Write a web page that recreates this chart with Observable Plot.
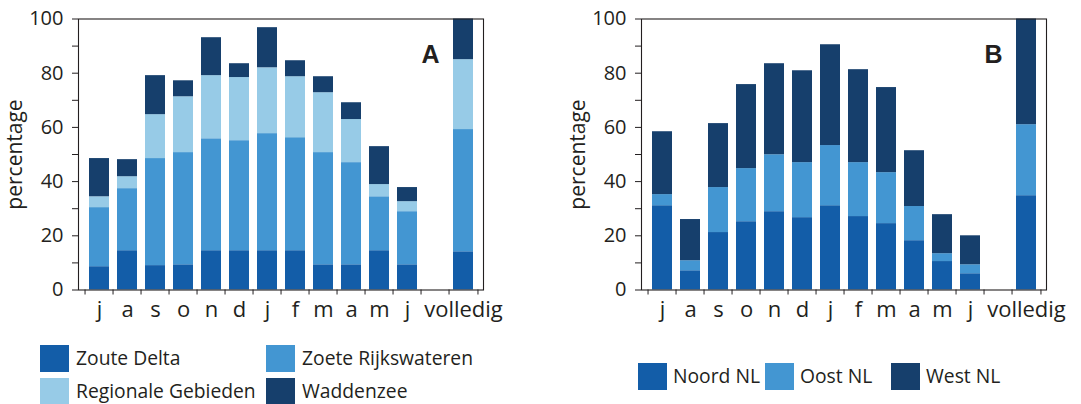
<!DOCTYPE html>
<html>
<head>
<meta charset="utf-8">
<script src="https://cdn.jsdelivr.net/npm/d3@7"></script>
<script src="https://cdn.jsdelivr.net/npm/@observablehq/plot@0.6"></script>
<style>
  html, body { margin: 0; padding: 0; background: #fff; }
  #root { position: relative; width: 1081px; height: 404px; overflow: hidden; font-family: "Open Sans", sans-serif; color: #231f20; }
  .panel { position: absolute; top: 0; }
  .sw { position: absolute; width: 29px; height: 27px; }
  .lt { position: absolute; font-size: 19.3px; line-height: 22px; white-space: nowrap; color: #231f20; }
</style>
</head>
<body>
<div id="root"></div>
<script>
// ---- data ----
const categories = ["jul","aug","sep","okt","nov","dec","jan","feb","mrt","apr","mei","jun","-","volledig"];
const tickLabels = ["j","a","s","o","n","d","j","f","m","a","m","j","","volledig"];
const yTicks = [0, 20, 40, 60, 80, 100];
const yMinorTicks = [10, 30, 50, 70, 90];

// Panel A (gebieden)
const seriesA = ["Zoute Delta", "Zoete Rijkswateren", "Regionale Gebieden", "Waddenzee"];
const zouteDelta        = [8.6, 14.5, 9.0, 9.3, 14.5, 14.5, 14.5, 14.5, 9.3, 9.3, 14.5, 9.3, null, 14.1];
const zoeteRijkswateren = [21.8, 22.9, 39.5, 41.4, 41.3, 40.6, 43.2, 41.7, 41.4, 37.7, 19.9, 19.6, null, 45.1];
const regionaleGebieden = [4.0, 4.4, 16.2, 20.6, 23.3, 23.3, 24.3, 22.5, 22.1, 15.9, 4.5, 3.7, null, 25.8];
const waddenzee         = [14.1, 6.3, 14.4, 5.9, 14.0, 5.1, 14.8, 5.9, 5.9, 6.2, 14.0, 5.2, null, 15.0];
const colorsA = ["#135da8", "#4396d2", "#97cbe7", "#163f6c"];

// Panel B (regio's)
const seriesB = ["Noord NL", "Oost NL", "West NL"];
const noordNL = [31.1, 7.1, 21.2, 25.2, 28.9, 26.7, 31.1, 27.1, 24.5, 18.2, 10.5, 6.0, null, 34.8];
const oostNL  = [4.1, 3.7, 16.6, 19.6, 21.0, 20.3, 22.2, 19.9, 18.8, 12.6, 2.9, 3.3, null, 26.2];
const westNL  = [23.2, 15.2, 23.6, 31.0, 33.6, 33.9, 37.2, 34.3, 31.4, 20.6, 14.4, 10.7, null, 39.0];
const colorsB = ["#135da8", "#4396d2", "#163f6c"];

function table(names, arrays) {
  return names.flatMap((s, si) => arrays[si].map((v, i) => ({cat: categories[i], series: s, value: v})));
}

const FONT = "'Open Sans', sans-serif";
const INK = "#231f20";

function chart({data, names, colors, letter, marginLeft, marginRight}) {
  const width = 540, height = 330, marginTop = 18.5, marginBottom = 40.5;
  const bw = (width - marginLeft - marginRight) / categories.length;
  const lab = new Map(categories.map((c, i) => [c, tickLabels[i]]));
  return Plot.plot({
    width, height, marginTop, marginBottom, marginLeft, marginRight,
    style: {fontFamily: FONT, fontSize: "19px", color: INK, background: "white", overflow: "visible"},
    x: {type: "band", domain: categories, padding: 0},
    y: {domain: [0, 100]},
    color: {domain: names, range: colors},
    marks: [
      Plot.barY(data, {x: "cat", y: "value", fill: "series", insetLeft: 4, insetRight: 4}),
      Plot.frame({stroke: INK, strokeWidth: 1.1}),
      // y axis: major ticks with labels, minor ticks
      Plot.axisY({ticks: yTicks, tickSize: 6, tickPadding: 9, stroke: INK, fontSize: 20, label: null}),
      Plot.axisY({ticks: yMinorTicks, tickSize: 6, tickFormat: () => "", stroke: INK, label: null}),
      // x axis: labels centered in bands
      Plot.axisX({tickSize: 0, tickPadding: 11, tickFormat: d => lab.get(d), fontSize: 22, label: null}),
      // x axis: tick marks at band boundaries
      Plot.axisX({tickSize: 5, tickFormat: () => "", dx: -bw / 2, stroke: INK, label: null}),
      Plot.axisX({ticks: categories.slice(-1), tickSize: 5, tickFormat: () => "", dx: bw / 2, stroke: INK, label: null}),
      Plot.text(["percentage"], {frameAnchor: "left", rotate: -90, dx: -63, fontSize: 21, fill: INK, textAnchor: "middle", lineAnchor: "middle"}),
      Plot.text([letter], {frameAnchor: "top-right", dx: -53, dy: 35.5, fontSize: 25, fontWeight: "bold", fill: INK, textAnchor: "middle", lineAnchor: "middle", fontFamily: "'Liberation Sans', Arial, sans-serif"})
    ]
  });
}

const root = document.getElementById("root");

const pA = document.createElement("div"); pA.className = "panel"; pA.style.left = "0px";
pA.appendChild(chart({data: table(seriesA, [zouteDelta, zoeteRijkswateren, regionaleGebieden, waddenzee]), names: seriesA, colors: colorsA, letter: "A", marginLeft: 78, marginRight: 57}));
root.appendChild(pA);

const pB = document.createElement("div"); pB.className = "panel"; pB.style.left = "540px";
pB.appendChild(chart({data: table(seriesB, [noordNL, oostNL, westNL]), names: seriesB, colors: colorsB, letter: "B", marginLeft: 101, marginRight: 34}));
root.appendChild(pB);

// legends
function legendItem(name, color, x, y, textX) {
  const s = document.createElement("div"); s.className = "sw";
  s.style.left = x + "px"; s.style.top = y + "px"; s.style.background = color;
  const t = document.createElement("div"); t.className = "lt";
  t.style.left = textX + "px"; t.style.top = (y + 2) + "px"; t.textContent = name;
  root.appendChild(s); root.appendChild(t);
}
// Legend A: 2 x 2 grid
const legAcols = [40, 266], legArows = [345, 378];
seriesA.forEach((n, i) => {
  const c = i % 2, r = Math.floor(i / 2);
  legendItem(n, colorsA[i], legAcols[c], legArows[r], legAcols[c] + 36);
});
// Legend B: single row
const legBx = [638, 765, 891];
seriesB.forEach((n, i) => legendItem(n, colorsB[i], legBx[i], 363, legBx[i] + 35));
</script>
</body>
</html>
